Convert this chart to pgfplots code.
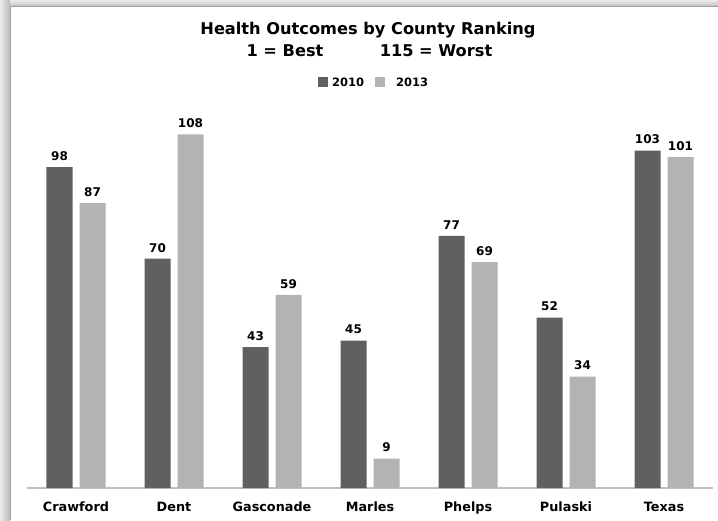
\documentclass[border=0pt]{standalone}
\usepackage{pgfplots}
\pgfplotsset{compat=1.18}
\usepackage{fontspec}
\setmainfont{DejaVu Sans}
\definecolor{darkbar}{HTML}{606060}
\definecolor{lightbar}{HTML}{B3B3B3}
\definecolor{axisgray}{HTML}{C0C0C0}
\begin{document}
\begin{tikzpicture}[x=1pt,y=1pt]
\useasboundingbox (0,0) rectangle (718,520);
% frame shadow
\shade[left color=gray!15, right color=gray!55] (0,0) rectangle (10,520);
\shade[top color=gray!15, bottom color=gray!55] (10,513) rectangle (718,520);
\fill[white] (10,0) rectangle (718,513);
\draw[gray!75, line width=1pt] (10,0) -- (10,513) -- (718,513);
% title
\node[font=\bfseries\fontsize{16.2}{18}\selectfont] at (368,490) {Health Outcomes by County Ranking};
\node[font=\bfseries\fontsize{16.2}{18}\selectfont, anchor=base] at (285,463) {1 = Best};
\node[font=\bfseries\fontsize{16.2}{18}\selectfont, anchor=base] at (436,463) {115 = Worst};
% legend
\fill[darkbar] (318,433) rectangle (328,443);
\node[font=\bfseries\fontsize{11.5}{13}\selectfont, anchor=west, inner sep=0pt] at (332,438) {2010};
\fill[lightbar] (375,433) rectangle (385,443);
\node[font=\bfseries\fontsize{11.5}{13}\selectfont, anchor=west, inner sep=0pt] at (396,438) {2013};
\begin{axis}[
  at={(27pt,32pt)}, anchor=south west,
  scale only axis, width=686pt, height=393pt,
  ymin=0, ymax=120, xmin=-0.5, xmax=6.5,
  axis y line=none,
  axis x line*=bottom,
  x axis line style={draw=axisgray, line width=1.5pt, -},
  xtick=data,
  xticklabels={Crawford,Dent,Gasconade,Marles,Phelps,Pulaski,Texas},
  xtick style={draw=none},
  xticklabel style={font=\bfseries\fontsize{12.8}{14}\selectfont, yshift=-6pt},
  ybar=7pt, bar width=26pt,
  nodes near coords,
  every node near coord/.append style={font=\bfseries\fontsize{12}{14}\selectfont, black, yshift=3pt},
  /pgf/number format/assume math mode=true,
  clip=false,
]
\addplot[fill=darkbar, draw=none] coordinates {(0,98) (1,70) (2,43) (3,45) (4,77) (5,52) (6,103)};
\addplot[fill=lightbar, draw=none] coordinates {(0,87) (1,108) (2,59) (3,9) (4,69) (5,34) (6,101)};
\end{axis}
\end{tikzpicture}
\end{document}
